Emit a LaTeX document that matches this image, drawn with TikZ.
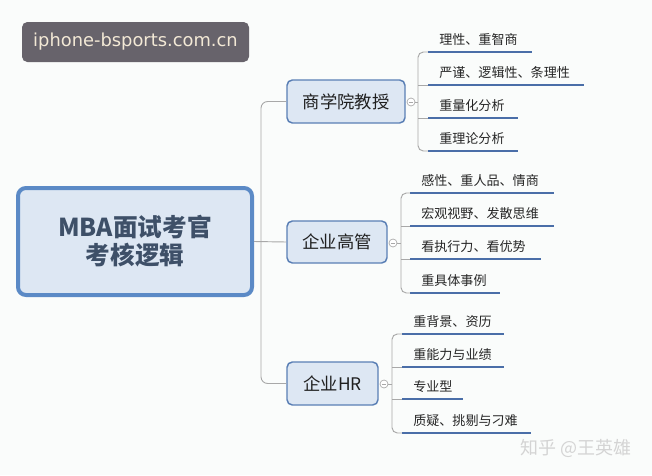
\documentclass[tikz,border=0pt]{standalone}
\usepackage{fontspec}
\setmainfont{Noto Sans CJK SC}
\newfontfamily\wmfont{DejaVu Sans}
\definecolor{bgc}{HTML}{FAFCFB}
\definecolor{boxfill}{HTML}{DDE7F3}
\definecolor{subline}{HTML}{5A7FB5}
\definecolor{mainline}{HTML}{5B8AC6}
\definecolor{titletext}{HTML}{3E5068}
\definecolor{ulblue}{HTML}{4A6EA8}
\definecolor{conngray}{HTML}{A8A8A8}
\definecolor{wmbox}{HTML}{67636B}
\definecolor{wmtext}{HTML}{F3E9D6}
\definecolor{zhtext}{HTML}{D4D4D4}
\begin{document}
\begin{tikzpicture}[x=0.75pt,y=-0.75pt,
  subbox/.style={draw=subline, fill=boxfill, rounded corners=4pt, line width=1.1pt,
    inner sep=0pt, font=\fontsize{13}{15}\selectfont, text=black!88},
  mainbox/.style={draw=mainline, fill=boxfill, rounded corners=6pt, line width=3pt,
    inner sep=0pt, align=center, font=\fontsize{18.5}{21}\selectfont\bfseries, text=titletext},
  leaftext/.style={anchor=west, inner sep=0pt, font=\fontsize{9.8}{12}\selectfont, text=black!85},
  ulline/.style={draw=ulblue, line width=2.1pt},
  conn/.style={draw=conngray, line width=0.7pt},
  tog/.style={circle, draw=conngray, line width=0.5pt, minimum size=6pt, inner sep=0pt, fill=white}
]
\useasboundingbox (0,0) rectangle (652,475);
\fill[bgc] (0,0) rectangle (652,475);

% watermark
\node[fill=wmbox, rounded corners=4pt, minimum width=170.25pt, minimum height=30pt, inner sep=0pt,
  text=wmtext, font=\wmfont\fontsize{13.4}{15}\selectfont] (wm) at (135.5,42) {iphone-bsports.com.cn};

% central and sub boxes
\node[mainbox, minimum width=175.5pt, minimum height=80.25pt] (root) at (135,241.5) {MBA面试考官\\[0pt]考核逻辑};
\node[subbox, minimum width=88.5pt, minimum height=32.25pt] (A) at (346,101.5) {商学院教授};
\node[subbox, minimum width=75pt, minimum height=31.5pt] (B) at (337,242) {企业高管};
\node[subbox, minimum width=68.25pt, minimum height=32.25pt] (C) at (332.5,383.5) {企业HR};

% main connectors
\coordinate (spine) at (261,0);
\draw[conn] (root.east) -- (B.west);
\draw[conn, rounded corners=5pt] (A.west) -- (A.west -| spine) -- (C.west -| spine) -- (C.west);

% toggles
\node[tog] (tA) at (411,102) {};
\node[tog] (tB) at (393,243) {};
\node[tog] (tC) at (384,384) {};
\foreach \t in {tA,tB,tC}{
  \draw[conngray, line width=0.5pt] ([xshift=-1.6pt]\t.center) -- ([xshift=1.6pt]\t.center);
}

% leaf groups
\newcommand{\leafgroup}[5]{%
  % #1 name, #2 spine x, #3 ul start, #4 toggle, #5 list
  \coordinate (#1sp) at (#2,0);
  \foreach \yy/\ee/\tt [count=\i] in {#5}{
    \coordinate (#1s\i) at (#3,\yy);
    \coordinate (#1e\i) at (\ee,\yy);
    \node[leaftext] (#1t\i) at (#3+11,\yy-12.5) {\tt};
    \draw[ulline] (#1s\i) -- (#1e\i);
  }
  \draw[conn, rounded corners=4pt] (#1s1) -- (#1s1 -| #1sp) -- (#1s4 -| #1sp) -- (#1s4);
  \draw[conn] (#1s2 -| #1sp) -- (#1s2);
  \draw[conn] (#1s3 -| #1sp) -- (#1s3);
  \draw[conn] (#4.east) -- (#4.east -| #1sp);
}
\leafgroup{a}{418}{428}{tA}{52/532/理性、重智商, 85/584/严谨、逻辑性、条理性, 118/518/重量化分析, 151/518/重理论分析}
\leafgroup{b}{401}{410}{tB}{193/554/感性、重人品、情商, 226/554/宏观视野、发散思维, 259/541/看执行力、看优势, 293/500/重具体事例}
\leafgroup{c}{392}{402}{tC}{334/504/重背景、资历, 367/504/重能力与业绩, 399/463/专业型, 433/531/质疑、挑剔与刁难}

% site watermark
\node[inner sep=0pt, text=zhtext, font=\fontsize{13.5}{15}\selectfont] (zh) at (576,448) {知乎 @王英雄};
\end{tikzpicture}
\end{document}
